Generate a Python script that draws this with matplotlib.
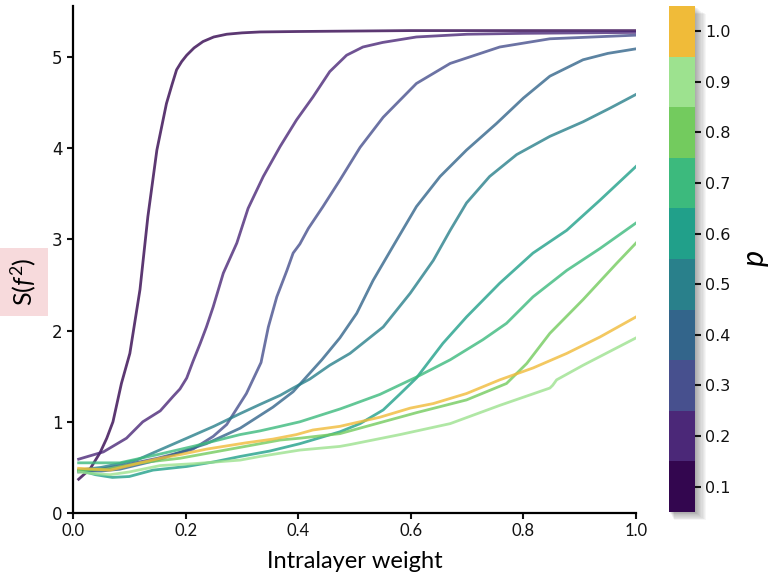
import numpy as np
import matplotlib
matplotlib.use("Agg")
import matplotlib.pyplot as plt
from matplotlib.colors import ListedColormap, BoundaryNorm
from matplotlib.patches import Rectangle

plt.rcParams['mathtext.fontset'] = 'custom'
plt.rcParams['mathtext.rm'] = 'Lato'
plt.rcParams['mathtext.it'] = 'Lato:italic'

# p values and their colours
p_vals = [0.1, 0.2, 0.3, 0.4, 0.5, 0.6, 0.7, 0.8, 0.9, 1.0]
p_colors = ['#33064f', '#4b2878', '#47508e', '#33658b', '#29808b',
            '#21a08a', '#3cba7d', '#73cb5e', '#9de28f', '#f0bb39']

# curves (intralayer weight -> S(f^2))
x01 = [0.01, 0.03, 0.048, 0.06, 0.071, 0.086, 0.101, 0.119, 0.133, 0.149, 0.166, 0.176,
       0.184, 0.193, 0.202, 0.215, 0.231, 0.25, 0.273, 0.3, 0.332, 0.4, 0.5, 0.6, 0.8, 1.0]
y01 = [0.37, 0.48, 0.66, 0.82, 1.0, 1.42, 1.75, 2.45, 3.25, 3.98, 4.49, 4.7,
       4.86, 4.95, 5.02, 5.1, 5.17, 5.22, 5.25, 5.265, 5.275, 5.28, 5.285, 5.29, 5.29, 5.29]

x02 = [0.01, 0.054, 0.095, 0.124, 0.155, 0.178, 0.19, 0.202, 0.213, 0.226, 0.237, 0.249, 0.267,
       0.291, 0.311, 0.338, 0.368, 0.397, 0.426, 0.456, 0.486, 0.515, 0.55, 0.61, 0.7, 0.8, 1.0]
y02 = [0.59, 0.67, 0.82, 1.0, 1.12, 1.28, 1.36, 1.48, 1.66, 1.86, 2.04, 2.26, 2.63,
       2.96, 3.34, 3.69, 4.02, 4.31, 4.56, 4.84, 5.02, 5.11, 5.16, 5.22, 5.25, 5.26, 5.27]

x03 = [0.01, 0.05, 0.095, 0.15, 0.213, 0.249, 0.273, 0.308, 0.334, 0.347, 0.362, 0.38, 0.391,
       0.403, 0.418, 0.444, 0.474, 0.51, 0.551, 0.61, 0.67, 0.758, 0.847, 1.0]
y03 = [0.45, 0.48, 0.53, 0.6, 0.7, 0.84, 0.97, 1.31, 1.65, 2.04, 2.37, 2.66, 2.85,
       2.95, 3.12, 3.36, 3.65, 4.01, 4.34, 4.71, 4.93, 5.11, 5.2, 5.24]

x04 = [0.01, 0.05, 0.083, 0.15, 0.202, 0.237, 0.297, 0.355, 0.391, 0.442, 0.474, 0.504, 0.533,
       0.568, 0.61, 0.652, 0.699, 0.752, 0.8, 0.847, 0.906, 0.95, 1.0]
y04 = [0.46, 0.46, 0.48, 0.58, 0.69, 0.76, 0.93, 1.16, 1.33, 1.68, 1.92, 2.19, 2.55,
       2.92, 3.36, 3.69, 3.98, 4.27, 4.55, 4.79, 4.97, 5.04, 5.09]

x05 = [0.01, 0.05, 0.113, 0.15, 0.202, 0.25, 0.297, 0.332, 0.368, 0.391, 0.421, 0.456, 0.492,
       0.551, 0.599, 0.64, 0.67, 0.699, 0.74, 0.788, 0.847, 0.906, 0.954, 1.0]
y05 = [0.47, 0.50, 0.58, 0.68, 0.82, 0.95, 1.09, 1.19, 1.29, 1.37, 1.47, 1.62, 1.75,
       2.04, 2.41, 2.77, 3.1, 3.4, 3.69, 3.93, 4.13, 4.29, 4.44, 4.59]

x06 = [0.01, 0.04, 0.07, 0.1, 0.142, 0.202, 0.25, 0.297, 0.35, 0.403, 0.474, 0.51, 0.551,
       0.58, 0.61, 0.657, 0.699, 0.758, 0.817, 0.877, 0.936, 1.0]
y06 = [0.47, 0.42, 0.39, 0.40, 0.47, 0.51, 0.56, 0.62, 0.68, 0.76, 0.89, 0.98, 1.13,
       1.3, 1.48, 1.86, 2.15, 2.52, 2.85, 3.1, 3.43, 3.8]

x07 = [0.01, 0.05, 0.083, 0.12, 0.15, 0.213, 0.297, 0.332, 0.368, 0.403, 0.474, 0.492, 0.545,
       0.61, 0.67, 0.728, 0.77, 0.817, 0.877, 0.936, 1.0]
y07 = [0.55, 0.55, 0.55, 0.6, 0.64, 0.73, 0.86, 0.9, 0.95, 1.0, 1.14, 1.18, 1.3,
       1.49, 1.68, 1.9, 2.08, 2.37, 2.66, 2.9, 3.18]

x08 = [0.01, 0.06, 0.12, 0.19, 0.297, 0.368, 0.403, 0.474, 0.545, 0.61, 0.699, 0.77, 0.806,
       0.847, 0.906, 0.966, 1.0]
y08 = [0.47, 0.48, 0.55, 0.6, 0.72, 0.8, 0.82, 0.87, 0.99, 1.1, 1.24, 1.42, 1.64,
       1.97, 2.34, 2.74, 2.96]

x09 = [0.01, 0.04, 0.066, 0.1, 0.155, 0.213, 0.297, 0.332, 0.403, 0.474, 0.492, 0.581, 0.67,
       0.758, 0.847, 0.852, 0.859, 0.906, 1.0]
y09 = [0.45, 0.43, 0.42, 0.45, 0.52, 0.54, 0.58, 0.62, 0.69, 0.73, 0.75, 0.86, 0.98,
       1.18, 1.37, 1.40, 1.46, 1.62, 1.92]

x10 = [0.01, 0.066, 0.12, 0.155, 0.19, 0.237, 0.308, 0.355, 0.397, 0.426, 0.474, 0.545, 0.599,
       0.64, 0.699, 0.758, 0.817, 0.877, 0.936, 1.0]
y10 = [0.49, 0.47, 0.55, 0.6, 0.64, 0.7, 0.77, 0.81, 0.86, 0.91, 0.95, 1.05, 1.15,
       1.2, 1.31, 1.46, 1.59, 1.75, 1.93, 2.15]

xs = [x01, x02, x03, x04, x05, x06, x07, x08, x09, x10]
ys = [y01, y02, y03, y04, y05, y06, y07, y08, y09, y10]

fig = plt.figure(figsize=(7.74, 5.85), dpi=100)
ax = fig.add_axes([0.0943, 0.1231, 0.7274, 0.8667])

for xx, yy, c in zip(xs, ys, p_colors):
    ax.plot(xx, yy, color=c, lw=2.0, alpha=0.8, solid_joinstyle='round')

ax.set_xlim(0, 1.0)
ax.set_ylim(0, 5.56)
ax.set_xticks([0.0, 0.2, 0.4, 0.6, 0.8, 1.0])
ax.set_yticks([0, 1, 2, 3, 4, 5])
ax.spines['right'].set_visible(False)
ax.spines['top'].set_visible(False)
for s in ['left', 'bottom']:
    ax.spines[s].set_linewidth(1.6)
ax.tick_params(width=1.5, length=4, colors='#111111')
ax.tick_params(axis='y', labelsize=12)
for lab in ax.get_xticklabels():
    lab.set_family('Lato')
    lab.set_fontsize(12)
ax.set_xlabel('Intralayer weight', family='Lato', fontsize=17, labelpad=8)
ax.set_ylabel('S($f^2$)', family='Lato', fontsize=18, va='center',
              bbox=dict(boxstyle='square,pad=0.4', fc='#f7dadc', ec='none'))
ax.yaxis.set_label_coords(-0.088, 0.456)

# discrete colour bar with a soft shadow
x0, y0, w, h = 0.8643, 0.1248, 0.0336, 0.865
cax = fig.add_axes([x0, y0, w, h])
cmap = ListedColormap(p_colors)
bounds = np.arange(0.05, 1.1, 0.1)
norm = BoundaryNorm(bounds, cmap.N)
cb = fig.colorbar(plt.cm.ScalarMappable(norm=norm, cmap=cmap), cax=cax, ticks=p_vals)
cb.ax.set_yticklabels(['%.1f' % v for v in p_vals])
cb.ax.minorticks_off()
cb.outline.set_visible(False)
cb.ax.tick_params(width=1.5, length=4, labelsize=11.5, colors='#111111')
cb.set_label('$p$', fontsize=22, labelpad=8)

for i in range(10):
    off = 0.0014 * (i + 1)
    fig.patches.append(Rectangle((x0 + off * 0.5, y0 - off * 1.0), w + off * 0.5, h,
                                 transform=fig.transFigure, fc='#000000',
                                 alpha=0.035, ec='none', zorder=-1))

fig.savefig('out.png', dpi=100)
